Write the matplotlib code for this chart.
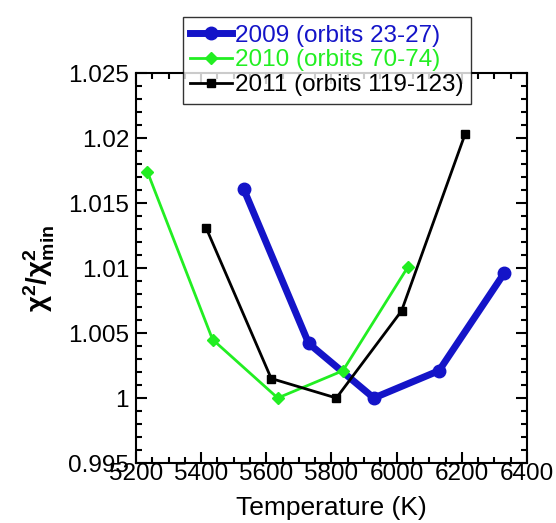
import numpy as np
import matplotlib
matplotlib.use('Agg')
import matplotlib.pyplot as plt
from matplotlib.ticker import MultipleLocator

plt.rcParams['font.family'] = ['Liberation Sans', 'DejaVu Sans']
plt.rcParams['mathtext.fontset'] = 'custom'
plt.rcParams['mathtext.rm'] = 'Liberation Sans'
plt.rcParams['mathtext.it'] = 'Liberation Sans'
plt.rcParams['mathtext.bf'] = 'Liberation Sans:bold'

# donnees
t_2009 = [5530, 5730, 5930, 6130, 6330]
chi_2009 = [1.0161, 1.0042, 1.0000, 1.0021, 1.0096]
t_2010 = [5235, 5435, 5635, 5835, 6035]
chi_2010 = [1.0174, 1.0045, 1.0000, 1.0021, 1.0101]
t_2011 = [5415, 5615, 5815, 6015, 6210]
chi_2011 = [1.0131, 1.0015, 1.0000, 1.0067, 1.0203]

labels = ['2009 (orbits 23-27)', '2010 (orbits 70-74)', '2011 (orbits 119-123)']
colors = ['#1414c8', '#22ee22', 'black']

fig = plt.figure(figsize=(5.56, 5.23), dpi=100)
ax = fig.add_axes([0.2446, 0.1147, 0.7032, 0.7457])

l1, = ax.plot(t_2009, chi_2009, color=colors[0], lw=5, marker='o', ms=9, label=labels[0])
l2, = ax.plot(t_2010, chi_2010, color=colors[1], lw=2, marker='D', ms=6, label=labels[1])
l3, = ax.plot(t_2011, chi_2011, color=colors[2], lw=2, marker='s', ms=6, label=labels[2])

ax.set_xlim(5200, 6400)
ax.set_ylim(0.995, 1.025)
ax.xaxis.set_major_locator(MultipleLocator(200))
ax.xaxis.set_minor_locator(MultipleLocator(50))
ax.yaxis.set_minor_locator(MultipleLocator(0.001))
ax.set_yticks([0.995, 1.0, 1.005, 1.01, 1.015, 1.02, 1.025])
ax.set_yticklabels(['0.995', '1', '1.005', '1.01', '1.015', '1.02', '1.025'])
ax.tick_params(which='both', direction='in', top=True, right=True, labelsize=17.5, width=1.5)
ax.tick_params(which='major', length=8)
ax.tick_params(axis='x', which='major', pad=0)
ax.tick_params(axis='y', which='major', pad=5)
ax.tick_params(which='minor', length=4)
for s in ax.spines.values():
    s.set_linewidth(1.5)

ax.set_xlabel('Temperature (K)', fontsize=19, labelpad=8)
ax.set_ylabel(r'$\mathbf{\chi^2/\chi^2_{min}}$', fontsize=20, labelpad=8)

leg = fig.legend(handles=[l1, l2, l3], loc='upper left', bbox_to_anchor=(0.329, 0.967),
                 fontsize=17.5, frameon=True, fancybox=False, edgecolor='black',
                 handlelength=1.7, handletextpad=0.15, borderpad=0.3, labelspacing=0.12,
                 borderaxespad=0)
leg.get_frame().set_linewidth(1.0)
for txt, c in zip(leg.get_texts(), colors):
    txt.set_color(c)

fig.savefig('out.png', dpi=100)
